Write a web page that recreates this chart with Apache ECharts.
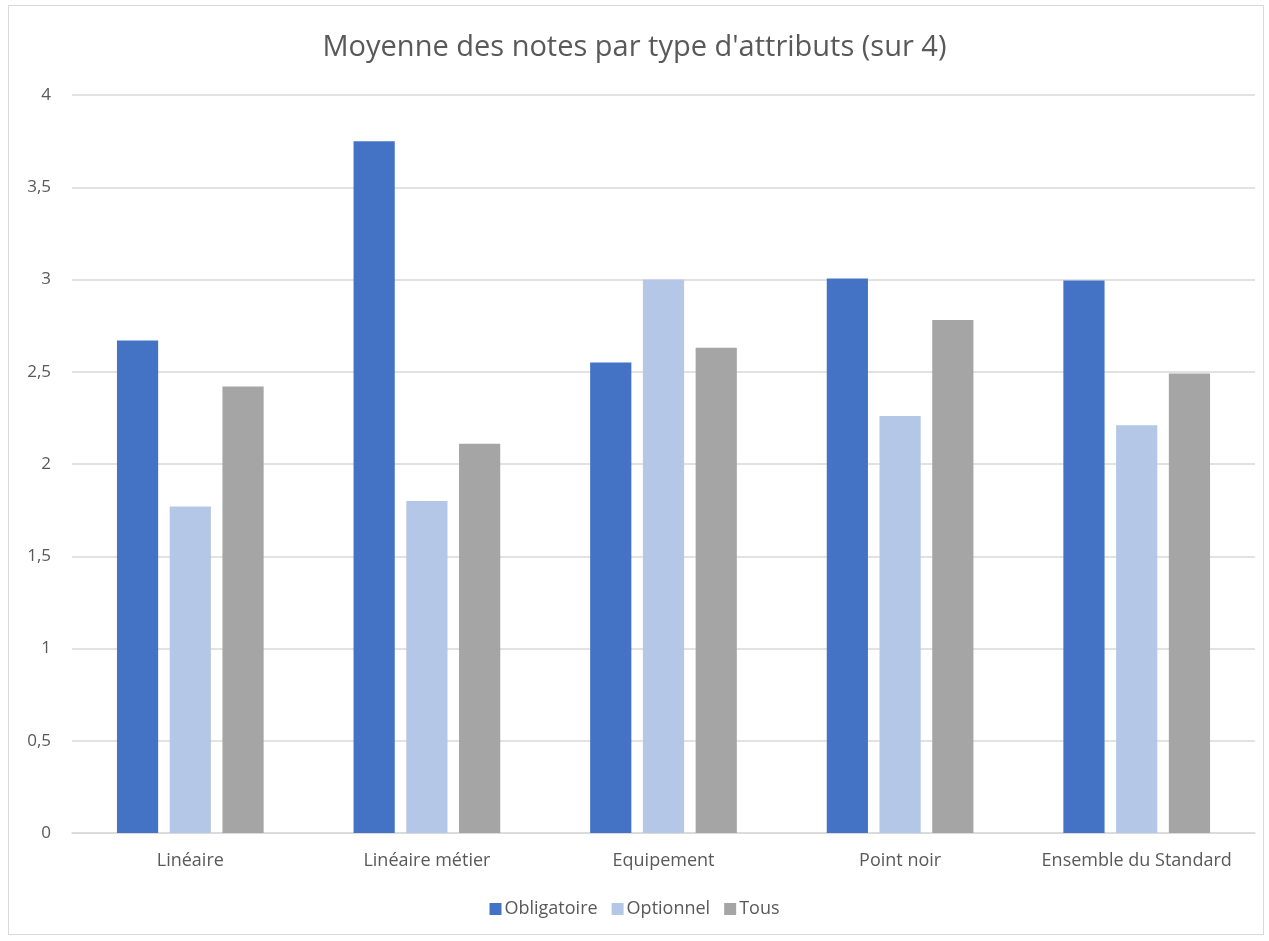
<!DOCTYPE html>
<html>
<head>
<meta charset="utf-8">
<script src="https://cdn.jsdelivr.net/npm/echarts@6/dist/echarts.min.js"></script>
<style>
  html, body { margin: 0; padding: 0; background: #fff; }
  #frame {
    position: absolute; left: 8px; top: 5px; width: 1256px; height: 930px;
    border: 1px solid #d9d9d9; box-sizing: border-box;
  }
  #chart { position: absolute; left: 0; top: 0; width: 1269px; height: 941px; }
</style>
</head>
<body>
<div id="frame"></div>
<div id="chart"></div>
<script>
// données
const categories = ['Linéaire', 'Linéaire métier', 'Equipement', 'Point noir', 'Ensemble du Standard']
const obligatoire = [2.67, 3.75, 2.55, 3.005, 2.995]
const optionnel = [1.77, 1.80, 3.0, 2.26, 2.21]
const tous = [2.42, 2.11, 2.63, 2.78, 2.49]
const seriesNames = ['Obligatoire', 'Optionnel', 'Tous']
const colors = ['#4472c4', '#b4c7e7', '#a5a5a5']

const font = 'Open Sans'
const chart = echarts.init(document.getElementById('chart'))

const option = {
  animation: false,
  color: colors,
  title: {
    text: "Moyenne des notes par type d'attributs (sur 4)",
    left: 'center',
    top: 28,
    textStyle: { fontFamily: font, fontSize: 29, fontWeight: 'normal', color: '#595959' }
  },
  legend: {
    data: seriesNames,
    bottom: 18,
    left: 'center',
    icon: 'rect',
    itemWidth: 12,
    itemHeight: 12,
    itemGap: 14,
    textStyle: { fontFamily: font, fontSize: 18, color: '#595959', padding: [0, 0, 0, -2] }
  },
  grid: {
    left: 72,
    right: 14,
    top: 95,
    bottom: 108
  },
  xAxis: {
    type: 'category',
    data: categories,
    axisLine: { lineStyle: { color: '#d9d9d9', width: 1.5 } },
    axisTick: { show: false },
    axisLabel: { interval: 0, fontFamily: font, fontSize: 18, color: '#595959', margin: 19 }
  },
  yAxis: {
    type: 'value',
    min: 0,
    max: 4,
    interval: 0.5,
    axisLine: { show: false },
    axisTick: { show: false },
    splitLine: { lineStyle: { color: '#d9d9d9', width: 1.5 } },
    axisLabel: {
      fontFamily: font, fontSize: 17, color: '#595959', margin: 21,
      formatter: v => String(v).replace('.', ',')
    }
  },
  series: [
    { name: seriesNames[0], type: 'bar', data: obligatoire, barGap: '28%', barCategoryGap: '38%' },
    { name: seriesNames[1], type: 'bar', data: optionnel },
    { name: seriesNames[2], type: 'bar', data: tous }
  ]
}

chart.setOption(option)
</script>
</body>
</html>
